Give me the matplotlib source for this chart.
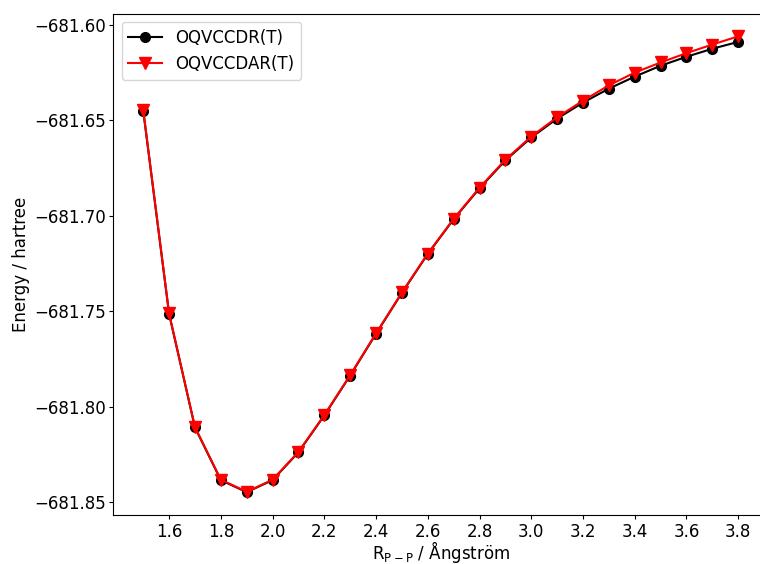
import matplotlib
matplotlib.use("Agg")
import matplotlib.pyplot as plt
import numpy as np

r = [1.5, 1.6, 1.7, 1.8, 1.9, 2.0, 2.1, 2.2, 2.3, 2.4, 2.5, 2.6,
     2.7, 2.8, 2.9, 3.0, 3.1, 3.2, 3.3, 3.4, 3.5, 3.6, 3.7, 3.8]
e_dr = [-681.6449, -681.7514, -681.8109, -681.8385, -681.8448, -681.8385,
        -681.8239, -681.8046, -681.7837, -681.7618, -681.7404, -681.7200,
        -681.7018, -681.6856, -681.6710, -681.6590, -681.6491, -681.6407,
        -681.6334, -681.6271, -681.6214, -681.6167, -681.6125, -681.6089]
e_dar = [-681.6445, -681.7512, -681.8107, -681.8383, -681.8446, -681.8383,
         -681.8237, -681.8044, -681.7835, -681.7616, -681.7402, -681.7198,
         -681.7016, -681.6853, -681.6706, -681.6585, -681.6484, -681.6397,
         -681.6317, -681.6250, -681.6197, -681.6148, -681.6103, -681.6060]

plt.rcParams['font.size'] = 12
plt.rcParams['xtick.major.size'] = 3
plt.rcParams['ytick.major.size'] = 3
plt.rcParams['xtick.major.pad'] = 2.5
plt.rcParams['ytick.major.pad'] = 2.5
fig, ax = plt.subplots(figsize=(7.6, 5.64), dpi=100)
ax.plot(r, e_dr, '-o', color='black', markersize=7, linewidth=1.5, label='OQVCCDR(T)')
ax.plot(r, e_dar, '-v', color='red', markersize=8, linewidth=1.5, label='OQVCCDAR(T)')
ax.set_xticks(np.arange(1.6, 3.81, 0.2))
ax.set_xlabel(r'R$_{\mathrm{P-P}}$ / Ångström', labelpad=-1)
ax.set_ylabel('Energy / hartree', labelpad=3)
ax.ticklabel_format(axis='y', useOffset=False)
ax.legend(loc='upper left')
plt.subplots_adjust(left=0.1493, right=1.0105, top=0.976, bottom=0.0870)
fig.savefig('out.png')
